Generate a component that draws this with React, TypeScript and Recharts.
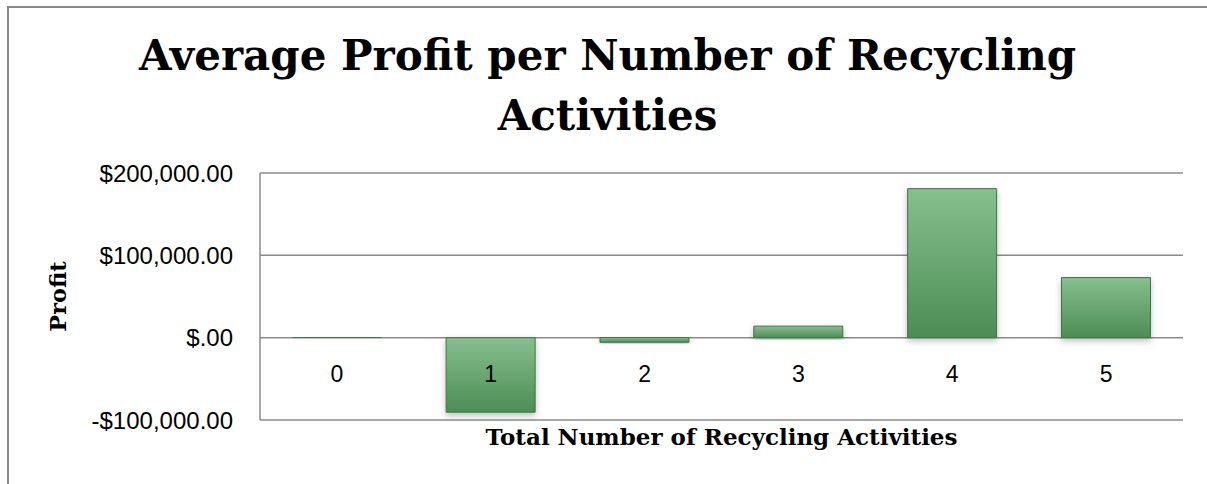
import React from 'react';
import { BarChart, Bar, XAxis, YAxis, CartesianGrid, Label } from 'recharts';

const activities = ['0', '1', '2', '3', '4', '5'];
const avgProfit = [-300, -90500, -5600, 14000, 181000, 73000];
const yTicks = [-100000, 0, 100000, 200000];

const data = activities.map((name, i) => ({ name, profit: avgProfit[i] }));

const slab = '"DejaVu Serif", serif';
const sans = '"Liberation Sans", Arial, sans-serif';

const money = (v: number) => {
  const abs = Math.abs(v);
  const s = abs === 0 ? '.00' : abs.toLocaleString('en-US') + '.00';
  return (v < 0 ? '-$' : '$') + s;
};

const XTick = (props: any) => {
  const { x, y, payload } = props;
  return (
    <text x={x} y={y - 48} dy="0.35em" textAnchor="middle" fontFamily={sans} fontSize={23} fill="#000">
      {payload.value}
    </text>
  );
};

const App: React.FC = () => {
  return (
    <div style={{ position: 'absolute', left: 0, top: 0, width: 1207, height: 484, background: '#fff', overflow: 'hidden' }}>
      <div style={{ position: 'absolute', left: 7, top: 6, width: 1200, height: 500, borderLeft: '2px solid #888', borderTop: '2px solid #888' }} />
      <div
        style={{
          position: 'absolute',
          left: 8,
          top: 26,
          width: 1199,
          textAlign: 'center',
          fontFamily: slab,
          fontWeight: 'bold',
          fontSize: 42,
          lineHeight: '60px',
          color: '#000',
        }}
      >
        Average Profit per Number of Recycling
        <br />
        Activities
      </div>
      <div style={{ position: 'absolute', left: 0, top: 0 }}>
        <BarChart width={1207} height={484} data={data} margin={{ top: 173, right: 24, bottom: 24, left: 0 }} barCategoryGap="21%">
          <defs>
            <linearGradient id="barFill" x1="0" y1="0" x2="0" y2="1">
              <stop offset="0%" stopColor="#86c08d" />
              <stop offset="100%" stopColor="#4d8d55" />
            </linearGradient>
            <filter id="barShadow" x="-20%" y="-20%" width="140%" height="140%">
              <feDropShadow dx="0" dy="3" stdDeviation="3" floodColor="#000" floodOpacity="0.25" />
            </filter>
          </defs>
          <CartesianGrid vertical={false} stroke="#8a8a8a" strokeWidth={1.5} />
          <XAxis dataKey="name" height={40} axisLine={false} tickLine={false} tickSize={0} tick={<XTick />}>
            <Label
              value="Total Number of Recycling Activities"
              position="insideTop"
              offset={9}
              style={{ fontFamily: slab, fontWeight: 'bold', fontSize: 23, fill: '#000' }}
            />
          </XAxis>
          <YAxis
            width={260}
            domain={[-100000, 200000]}
            ticks={yTicks}
            tickFormatter={money}
            axisLine={{ stroke: '#8a8a8a', strokeWidth: 1.5 }}
            tickLine={false}
            tickSize={0}
            tickMargin={27}
            tick={{ fontFamily: sans, fontSize: 24, fill: '#000' }}
          >
            <Label
              value="Profit"
              angle={-90}
              position="insideLeft"
              offset={58}
              style={{ textAnchor: 'middle', fontFamily: slab, fontWeight: 'bold', fontSize: 22.5, fill: '#000' }}
            />
          </YAxis>
          <Bar
            dataKey="profit"
            fill="url(#barFill)"
            stroke="#3f7446"
            strokeWidth={1}
            filter="url(#barShadow)"
            isAnimationActive={false}
          />
        </BarChart>
      </div>
    </div>
  );
};

export default App;
